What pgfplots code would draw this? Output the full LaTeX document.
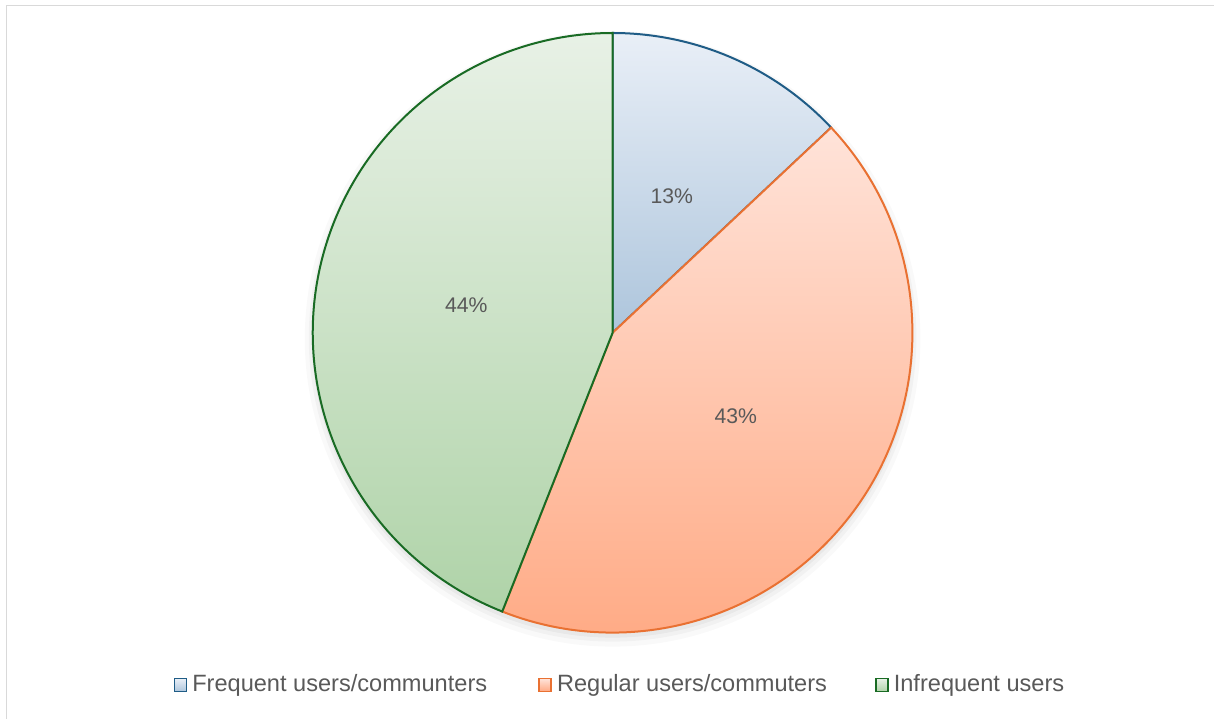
\documentclass[border=0pt]{standalone}
\usepackage{pgfplots}
\pgfplotsset{compat=1.18}
\usepackage{pgfplotstable}
\usepackage{fontspec}
\setmainfont{Liberation Sans}
\definecolor{blueline}{HTML}{1F5C86}
\definecolor{bluetop}{HTML}{E9EFF7}
\definecolor{bluebot}{HTML}{ADC5DC}
\definecolor{orangeline}{HTML}{E97132}
\definecolor{orangetop}{HTML}{FFE3D9}
\definecolor{orangebot}{HTML}{FFA983}
\definecolor{greenline}{HTML}{196B24}
\definecolor{greentop}{HTML}{E8F1E6}
\definecolor{greenbot}{HTML}{AFD3A8}
\definecolor{txtgray}{HTML}{595959}
\definecolor{framegray}{HTML}{D9D9D9}
\pgfplotstableread{
value
13
43
44
}\piedata
\pgfplotstablegetelem{0}{value}\of\piedata \let\va\pgfplotsretval
\pgfplotstablegetelem{1}{value}\of\piedata \let\vb\pgfplotsretval
\pgfplotstablegetelem{2}{value}\of\piedata \let\vc\pgfplotsretval
\pgfmathsetmacro\tot{\va+\vb+\vc}
\pgfmathsetmacro\aA{90}
\pgfmathsetmacro\aB{90-360*\va/\tot}
\pgfmathsetmacro\aC{\aB-360*\vb/\tot}
\pgfmathsetmacro\aD{\aC-360*\vc/\tot}
\pgfmathsetmacro\mA{(\aA+\aB)/2}
\pgfmathsetmacro\mB{(\aB+\aC)/2}
\pgfmathsetmacro\mC{(\aC+\aD)/2}
\begin{document}
\begin{tikzpicture}
\begin{axis}[width=607.5pt,height=359.5pt,scale only axis,
  xmin=0,xmax=1215,ymin=0,ymax=719,y dir=reverse,
  hide axis,clip=false]
\path (axis cs:0,0) rectangle (axis cs:1215,719);
\draw[framegray,line width=0.8pt] (axis cs:6.5,719) -- (axis cs:6.5,5.5) -- (axis cs:1215,5.5);
% shadow
\fill[black,opacity=0.025] (axis cs:613,339) circle[radius=154pt];
\fill[black,opacity=0.03] (axis cs:613,338) circle[radius=152pt];
\fill[black,opacity=0.04] (axis cs:613,337) circle[radius=150.5pt];
% slices
\path[draw=blueline,line width=1pt,top color=bluetop,bottom color=bluebot]
  (axis cs:613,333) -- ++(\aA:150pt) arc[start angle=\aA,end angle=\aB,radius=150pt] -- cycle;
\path[draw=orangeline,line width=1pt,top color=orangetop,bottom color=orangebot]
  (axis cs:613,333) -- ++(\aB:150pt) arc[start angle=\aB,end angle=\aC,radius=150pt] -- cycle;
\path[draw=greenline,line width=1pt,top color=greentop,bottom color=greenbot]
  (axis cs:613,333) -- ++(\aC:150pt) arc[start angle=\aC,end angle=\aD,radius=150pt] -- cycle;
% labels
\path (axis cs:613,333) ++(\mA:74.5pt) node[text=txtgray,font=\fontsize{10.6}{12}\selectfont] {\va\%};
\path (axis cs:613,333) ++(\mB:74.5pt) node[text=txtgray,font=\fontsize{10.6}{12}\selectfont] {\vb\%};
\path (axis cs:613,333) ++(\mC:74.5pt) node[text=txtgray,font=\fontsize{10.6}{12}\selectfont] {\vc\%};
% legend
\path[draw=blueline,line width=0.8pt,top color=bluetop,bottom color=bluebot]
  (axis cs:174.5,679) rectangle (axis cs:186.5,692);
\node[anchor=west,inner sep=0pt,text=txtgray,font=\fontsize{11.8}{13}\selectfont] at (axis cs:192,685.5) {Frequent users/communters};
\path[draw=orangeline,line width=0.8pt,top color=orangetop,bottom color=orangebot]
  (axis cs:539.5,679) rectangle (axis cs:551.5,692);
\node[anchor=west,inner sep=0pt,text=txtgray,font=\fontsize{11.8}{13}\selectfont] at (axis cs:557,685.5) {Regular users/commuters};
\path[draw=greenline,line width=0.8pt,top color=greentop,bottom color=greenbot]
  (axis cs:876.5,679) rectangle (axis cs:888.5,692);
\node[anchor=west,inner sep=0pt,text=txtgray,font=\fontsize{11.8}{13}\selectfont] at (axis cs:894,685.5) {Infrequent users};
\end{axis}
\end{tikzpicture}
\end{document}
